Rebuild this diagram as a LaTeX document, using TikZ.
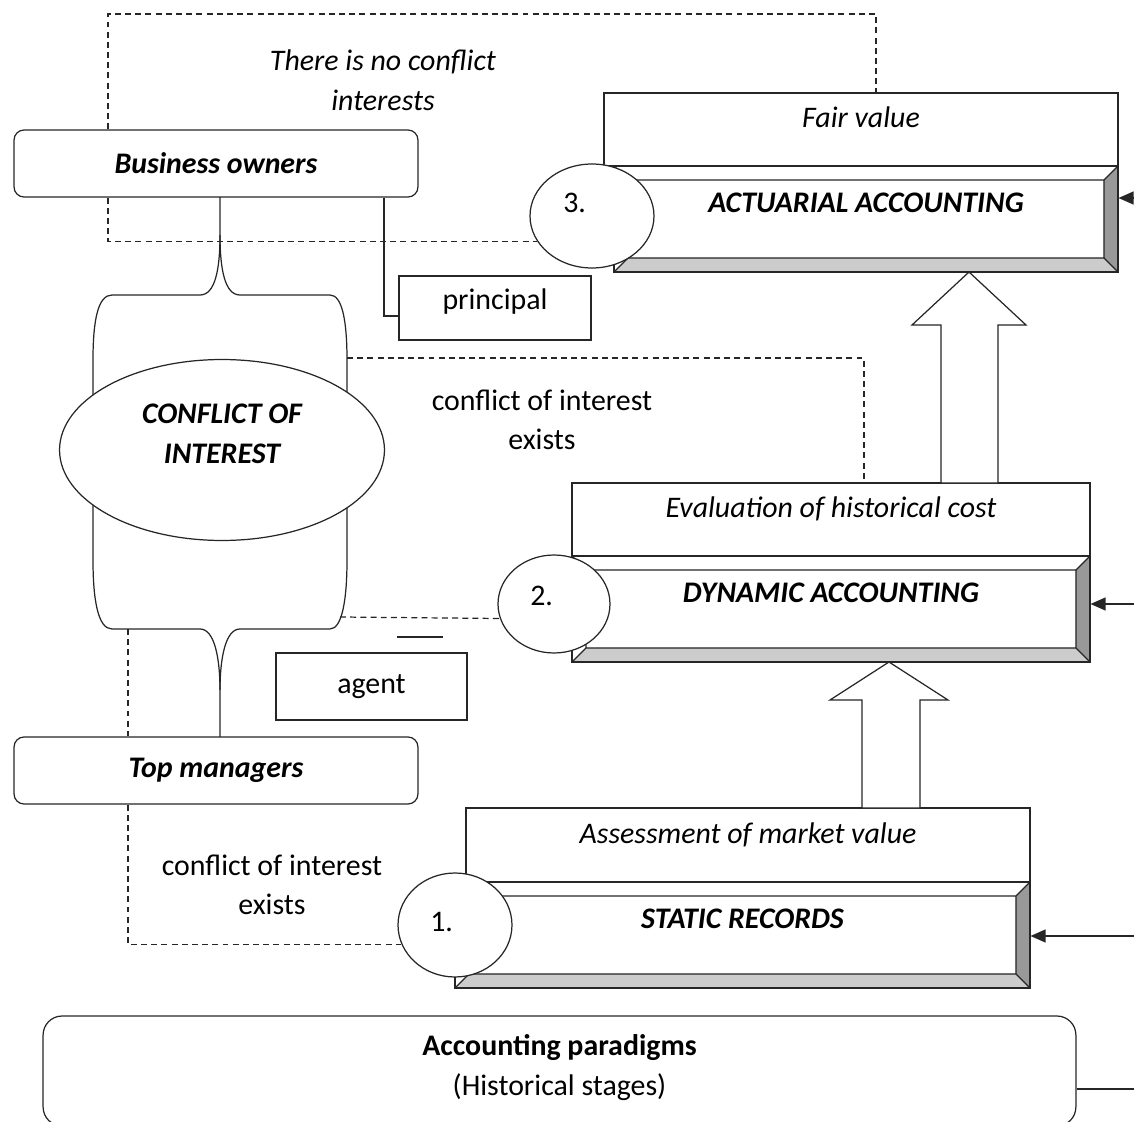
\documentclass[tikz,border=0pt]{standalone}
\usepackage{fontspec}
\setmainfont{Carlito}
\usetikzlibrary{shapes.geometric,arrows.meta,calc}

\tikzset{
  line/.style={draw=black!85,line width=0.7pt},
  dashedlink/.style={line,dash pattern=on 3.4pt off 2.4pt},
  feed/.style={line,-{Triangle[length=0.3cm,width=0.26cm]}},
  plain/.style={line,fill=white,inner sep=0pt},
  roundbox/.style={plain,rounded corners=0.2cm},
  topbox/.style={plain,font=\itshape,text height=0.35cm,text depth=0.43cm},
  stage/.style={plain,ellipse,text height=0.35cm,text depth=0.5cm},
  bevel/.style={plain,font=\bfseries\itshape,text height=0.35cm,text depth=0.63cm,
    path picture={
      \path (path picture bounding box.south west) coordinate (bsw)
            (path picture bounding box.north east) coordinate (bne)
            (path picture bounding box.south east) coordinate (bse)
            (path picture bounding box.north west) coordinate (bnw);
      \fill[black!40] (bne) -- (bse) -- ($(bse)+(-0.28cm,0.28cm)$) -- ($(bne)+(-0.28cm,-0.28cm)$) -- cycle;
      \fill[black!20] (bsw) -- (bse) -- ($(bse)+(-0.28cm,0.28cm)$) -- ($(bsw)+(0.28cm,0.28cm)$) -- cycle;
      \draw[line] ($(bsw)+(0.28cm,0.28cm)$) rectangle ($(bne)+(-0.28cm,-0.28cm)$)
        (bsw) -- ++(0.28cm,0.28cm) (bse) -- ++(-0.28cm,0.28cm)
        (bne) -- ++(-0.28cm,-0.28cm) (bnw) -- ++(0.28cm,-0.28cm);
    }},
}

\begin{document}
\fontsize{17pt}{22.5pt}\selectfont
\begin{tikzpicture}[x=0.02cm,y=-0.02cm]
	\useasboundingbox (0,0) rectangle (1134,1122);
	% brace between owners and managers
	\draw[line] (220,197) -- (220,235)
		.. controls (220,270) and (215,295) .. (200,295) -- (112,295)
		.. controls (98,295) and (93,320) .. (93,360) -- (93,560)
		.. controls (93,600) and (98,629) .. (112,629) -- (200,629)
		.. controls (215,629) and (220,660) .. (220,690) -- (220,737);
	\draw[line] (220,235)
		.. controls (220,270) and (225,295) .. (240,295) -- (330,295)
		.. controls (342,295) and (347,320) .. (347,360) -- (347,560)
		.. controls (347,600) and (342,629) .. (330,629) -- (240,629)
		.. controls (225,629) and (220,660) .. (220,690);
	\coordinate (bq) at (347,358);
	\coordinate (br) at (340,617);
	\coordinate (bs) at (128,629);

	\node[plain,ellipse,minimum width=6.5cm,minimum height=3.62cm,align=center,
		font=\bfseries\itshape,text height=1.2cm,text depth=0.67cm] (conflict) at (222,450) {CONFLICT OF\\INTEREST};

	\node[roundbox,minimum width=8.08cm,minimum height=1.34cm,font=\bfseries\itshape] (owners) at (216,163.5) {Business owners};
	\node[roundbox,minimum width=8.08cm,minimum height=1.34cm,font=\bfseries\itshape] (managers) at (216,770.5) {Top managers};
	\node[plain,minimum width=3.84cm,minimum height=1.28cm,text height=0.35cm,text depth=0.3cm] (principal) at (495,308) {principal};
	\node[plain,minimum width=3.82cm,minimum height=1.34cm] (agent) at (371.5,686.5) {agent};

	% stages
	\node[topbox,minimum width=10.28cm,minimum height=1.46cm] (fairv) at (861,129.5) {Fair value};
	\node[bevel,minimum width=10.08cm,minimum height=2.12cm] (actuarial) at (866,219) {ACTUARIAL ACCOUNTING};
	\node[topbox,minimum width=10.36cm,minimum height=1.46cm] (evalc) at (831,519.5) {Evaluation of historical cost};
	\node[bevel,minimum width=10.36cm,minimum height=2.12cm] (dynamic) at (831,609) {DYNAMIC ACCOUNTING};
	\node[topbox,minimum width=11.28cm,minimum height=1.48cm] (assess) at (748,845) {Assessment of market value};
	\node[bevel,minimum width=11.5cm,minimum height=2.12cm] (static) at (742.5,935) {STATIC RECORDS};
	\node[stage,minimum width=2.48cm,minimum height=2.08cm] (c3) at (592,216) {\makebox[1.15cm][l]{3.}};
	\node[stage,minimum width=2.24cm,minimum height=1.96cm,text depth=0.3cm] (c2) at (554,604) {\makebox[0.95cm][l]{2.}};
	\node[stage,minimum width=2.28cm,minimum height=2.08cm,text depth=0.1cm] (c1) at (455,925) {\makebox[0.99cm][l]{1.}};

	\node[roundbox,rounded corners=0.38cm,minimum width=20.66cm,minimum height=2.2cm,align=center,
		text height=1.2cm,text depth=0.23cm] (paradigms) at (559.5,1071) {\textbf{Accounting paradigms}\\(Historical stages)};

	% block arrows
	\draw[line,fill=white] (969,272) -- (1026,325) -- (998,325) -- (998,483) -- (941,483) -- (941,325) -- (912,325) -- cycle;
	\draw[line,fill=white] (889,662) -- (948,700) -- (920,700) -- (920,808) -- (862,808) -- (862,700) -- (830,700) -- cycle;

	% texts
	\node[align=center,font=\itshape] (noconf) at (383,80) {There is no conflict\\interests};
	\node[align=center] (conf1) at (542,420) {conflict of interest\\exists};
	\node[align=center] (conf2) at (272,885) {conflict of interest\\exists};

	% connectors
	\coordinate (xa) at (108,14);
	\coordinate (xb) at (876,14);
	\coordinate (xc) at (384,0);
	\coordinate (xd) at (864,0);
	\draw[dashedlink] (owners.north -| xa) -- (xa) -- (xb) -- (fairv.north -| xb);
	\draw[dashedlink] (owners.south -| xa) |- (c3.205);
	\draw[line] (owners.south -| xc) |- ($(principal.west)+(0,8)$);
	\draw[dashedlink] (bq) -| (evalc.north -| xd);
	\draw[dashedlink] (br) -- (c2.195);
	\draw[dashedlink] (bs) -- (managers.north -| bs);
	\draw[dashedlink] (managers.south -| bs) |- (c1.200);
	\draw[line] (397,637) -- (443,637);

	\coordinate (ra) at (1134,198);
	\coordinate (rb) at (1134,604);
	\coordinate (rc) at (1134,936);
	\coordinate (rd) at (1134,1089);
	\draw[feed] (ra) -- (actuarial.east |- ra);
	\draw[feed] (rb) -- (dynamic.east |- rb);
	\draw[feed] (rc) -- (static.east |- rc);
	\draw[line] (rd) -- (paradigms.east |- rd);
\end{tikzpicture}
\end{document}
